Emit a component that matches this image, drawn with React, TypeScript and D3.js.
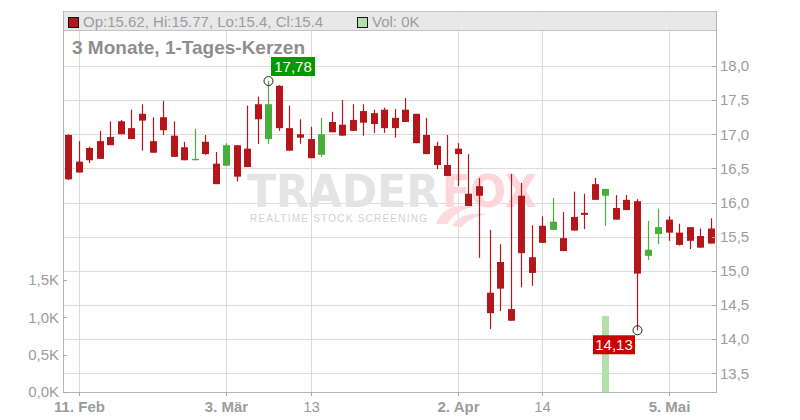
import React from 'react';
import * as d3 from 'd3';

// --- DATA ---
const opens = [
  16.99, 16.60, 16.80, 16.90, 16.96, 17.19, 17.09, 17.30, 16.90, 17.25,
  16.98, 16.81, 16.62, 16.89, 16.57, 16.54, 16.84, 16.79, 17.44, 16.93,
  17.71, 17.09, 17.00, 16.93, 16.70, 17.18, 17.14, 17.21, 17.34, 17.31,
  17.36, 17.24, 17.36, 17.30, 16.99, 16.83, 16.55, 16.79, 16.13, 16.24,
  14.68, 15.13, 14.44, 16.10, 15.20, 15.66, 15.60, 15.48, 15.79, 15.85,
  16.27, 16.10, 15.92, 16.04, 16.02, 15.22, 15.54, 15.75, 15.56, 15.64,
  15.51, 15.62,
];
const highs = [
  17.00, 16.90, 16.82, 17.05, 17.19, 17.21, 17.36, 17.44, 17.25, 17.49,
  17.19, 16.89, 17.08, 16.99, 16.74, 16.87, 16.84, 17.42, 17.55, 17.78,
  17.72, 17.42, 17.22, 17.11, 17.24, 17.33, 17.50, 17.44, 17.44, 17.36,
  17.39, 17.37, 17.53, 17.30, 17.24, 16.89, 16.99, 16.87, 16.71, 16.36,
  15.60, 15.39, 16.42, 16.29, 15.67, 15.80, 16.07, 15.86, 16.16, 16.13,
  16.36, 16.20, 16.11, 16.11, 16.05, 15.73, 15.91, 15.80, 15.69, 15.64,
  15.62, 15.77,
];
const lows = [
  16.33, 16.44, 16.58, 16.64, 16.84, 17.00, 16.93, 16.76, 16.73, 16.99,
  16.67, 16.62, 16.62, 16.70, 16.27, 16.54, 16.31, 16.52, 16.86, 16.86,
  17.05, 16.76, 16.86, 16.65, 16.67, 17.03, 16.98, 17.05, 16.98, 17.02,
  17.02, 16.95, 17.18, 16.87, 16.71, 16.49, 16.39, 16.24, 15.95, 15.19,
  14.15, 14.41, 14.27, 14.76, 14.78, 15.41, 15.60, 15.29, 15.59, 15.61,
  16.04, 15.66, 15.75, 15.89, 14.13, 15.16, 15.39, 15.44, 15.37, 15.32,
  15.34, 15.40,
];
const closes = [
  16.34, 16.44, 16.62, 16.64, 16.84, 17.00, 16.93, 17.20, 16.73, 17.06,
  16.67, 16.62, 16.64, 16.71, 16.27, 16.84, 16.38, 16.52, 17.22, 17.44,
  17.09, 16.76, 16.95, 16.65, 17.00, 17.03, 16.98, 17.05, 17.17, 17.15,
  17.09, 17.09, 17.18, 16.87, 16.71, 16.55, 16.39, 16.71, 15.95, 16.10,
  14.38, 14.74, 14.27, 15.26, 14.97, 15.41, 15.72, 15.29, 15.59, 15.82,
  16.04, 16.20, 15.75, 15.89, 14.96, 15.31, 15.64, 15.56, 15.38, 15.44,
  15.34, 15.40,
];
const volumes = [
  0, 0, 0, 0, 0, 0, 0, 0, 0, 0,
  0, 0, 0, 0, 0, 0, 0, 0, 0, 0,
  0, 0, 0, 0, 0, 0, 0, 0, 0, 0,
  0, 0, 0, 0, 0, 0, 0, 0, 0, 0,
  0, 0, 0, 0, 0, 0, 0, 0, 0, 0,
  0, 1020, 0, 0, 0, 0, 0, 0, 0, 0,
  0, 0,
];
const xTickIndex = [1, 15, 23, 37, 45, 57];
const xTickLabels = ['11. Feb', '3. Mär', '13', '2. Apr', '14', '5. Mai'];
const xTickBold = [true, true, false, true, false, true];
const priceTicks = [13.5, 14, 14.5, 15, 15.5, 16, 16.5, 17, 17.5, 18];
const volumeTicks = [0, 500, 1000, 1500];
const title = '3 Monate, 1-Tages-Kerzen';

const FONT = '"Liberation Sans", Arial, sans-serif';
const RED = '#b5161a';
const GREEN = '#4aae3a';
const AXIS_TXT = '#9c9c9c';
const GRID = '#dcdcdc';

export default function App() {
  const left = 63, right = 716, top = 11, bottom = 392;
  const n = opens.length;

  const x = d3.scaleBand<number>()
    .domain(d3.range(n))
    .range([left, right])
    .paddingInner(0.33)
    .paddingOuter(0.165);
  const cx = (i: number) => Math.round((x(i) || 0) + x.bandwidth() / 2);

  const y = d3.scaleLinear().domain([13.5, 18]).range([373.3, 66]);
  const yVol = d3.scaleLinear().domain([0, 1500]).range([bottom, 280]);

  const fmtPrice = (v: number) => d3.format('.1f')(v).replace('.', ',');
  const fmtVol = (v: number) => (v / 1000).toFixed(1).replace('.', ',') + 'K';

  const hiIdx = d3.maxIndex(highs);
  const loIdx = d3.minIndex(lows);
  const last = n - 1;

  return (
    <div style={{ position: 'fixed', left: 0, top: 0 }}>
      <svg width={800} height={420} style={{ display: 'block', fontFamily: FONT }}>
        <rect x={0} y={0} width={800} height={420} fill="#fff" />

        {/* horizontal grid */}
        {priceTicks.map(t => (
          <line key={'hg' + t} x1={left} x2={right} y1={Math.round(y(t)) + 0.5} y2={Math.round(y(t)) + 0.5}
            stroke={GRID} strokeWidth={1} />
        ))}
        {/* vertical grid */}
        {xTickIndex.map(i => (
          <line key={'vg' + i} x1={cx(i) + 0.5} x2={cx(i) + 0.5} y1={top} y2={bottom}
            stroke={GRID} strokeWidth={1} />
        ))}

        {/* watermark */}
        <g>
          <text x={247} y={207} fontSize={44} fontWeight={900} fill="#e4e4e4"
            fontFamily='"DejaVu Sans", sans-serif' textLength={192} lengthAdjust="spacingAndGlyphs">TRADER</text>
          <text x={442} y={207} fontSize={44} fontWeight={900} fill="#fcd6da"
            fontFamily='"DejaVu Sans", sans-serif' textLength={95} lengthAdjust="spacingAndGlyphs">FOX</text>
          <text x={250} y={222} fontSize={10} fill="#d2d2d2" textLength={177}
            lengthAdjust="spacing">REALTIME STOCK SCREENING</text>
          <path d="M436,224 C440,210 455,203 476,206 C462,209 452,215 448,224 Z" fill="#fcdadd" />
          <path d="M452,226 C458,216 470,212 486,214 C474,217 466,221 462,227 Z" fill="#fcdadd" />
        </g>

        {/* legend band */}
        <rect x={left + 0.5} y={top + 0.5} width={right - left} height={19} fill="#e6e6e6" fillOpacity={0.92}
          stroke="#c4c4c4" strokeWidth={1} />
        <rect x={68.5} y={17.5} width={10} height={10} fill={closes[last] >= opens[last] ? GREEN : RED}
          stroke="#111" strokeWidth={1} />
        <text x={83} y={27} fontSize={15} fill={AXIS_TXT}>
          {`Op:${opens[last]}, Hi:${highs[last]}, Lo:${lows[last]}, Cl:${closes[last]}`}
        </text>
        <rect x={357.5} y={17.5} width={10} height={10} fill="#b2e0ab" stroke="#111" strokeWidth={1} />
        <text x={372} y={27} fontSize={15} fill={AXIS_TXT}>{`Vol: ${Math.round(volumes[last] / 1000)}K`}</text>

        {/* title */}
        <text x={72} y={54} fontSize={19} fontWeight="bold" fill="#8e8e8e">{title}</text>

        {/* volume bars */}
        {volumes.map((v, i) => v > 0 ? (
          <rect key={'v' + i} x={cx(i) - 3} y={yVol(v)} width={7} height={bottom - yVol(v)}
            fill={closes[i] >= opens[i] ? '#b2e0ab' : '#f0b4b4'} />
        ) : null)}

        {/* candles */}
        {opens.map((o, i) => {
          const c = closes[i];
          const up = c >= o;
          const col = up ? GREEN : RED;
          const yTop = y(Math.max(o, c));
          const h = Math.max(1, y(Math.min(o, c)) - yTop);
          return (
            <g key={'c' + i}>
              <line x1={cx(i) + 0.5} x2={cx(i) + 0.5} y1={y(highs[i])} y2={y(lows[i])} stroke={col} strokeWidth={1.2} />
              <rect x={cx(i) - 3} y={yTop} width={7} height={h} fill={col} />
            </g>
          );
        })}

        {/* frame */}
        <line x1={left + 0.5} x2={left + 0.5} y1={top} y2={bottom + 0.5} stroke="#b4b4b4" />
        <line x1={right + 0.5} x2={right + 0.5} y1={top} y2={bottom + 0.5} stroke="#b4b4b4" />
        <line x1={left} x2={right + 1} y1={bottom + 0.5} y2={bottom + 0.5} stroke="#b4b4b4" />

        {/* right price axis */}
        {priceTicks.map(t => (
          <g key={'pt' + t}>
            <line x1={right - 4} x2={right} y1={Math.round(y(t)) + 0.5} y2={Math.round(y(t)) + 0.5} stroke="#a8a8a8" />
            <text x={720} y={y(t)} dy="0.35em" fontSize={15} fill={AXIS_TXT}>{fmtPrice(t)}</text>
          </g>
        ))}

        {/* left volume axis */}
        {volumeTicks.map(t => (
          <g key={'vt' + t}>
            <line x1={left} x2={left + 4} y1={Math.round(yVol(t)) + 0.5} y2={Math.round(yVol(t)) + 0.5} stroke="#a8a8a8" />
            <text x={59} y={yVol(t)} dy="0.35em" fontSize={15} fill={AXIS_TXT} textAnchor="end">{fmtVol(t)}</text>
          </g>
        ))}

        {/* bottom axis */}
        {xTickIndex.map((i, k) => (
          <g key={'xt' + i}>
            <line x1={cx(i) + 0.5} x2={cx(i) + 0.5} y1={bottom} y2={bottom + 4} stroke="#a8a8a8" />
            <text x={cx(i) + 0.5} y={412} fontSize={15} fill={AXIS_TXT} textAnchor="middle"
              fontWeight={xTickBold[k] ? 'bold' : 'normal'}>{xTickLabels[k]}</text>
          </g>
        ))}

        {/* high / low markers */}
        <circle cx={cx(hiIdx) + 0.5} cy={y(highs[hiIdx])} r={4.5} fill="none" stroke="#222" strokeWidth={1} />
        <rect x={cx(hiIdx) + 3} y={y(highs[hiIdx]) - 24} width={44} height={19} fill="#009900" />
        <text x={cx(hiIdx) + 25} y={y(highs[hiIdx]) - 14.5} dy="0.36em" fontSize={15} fill="#fff"
          textAnchor="middle">{highs[hiIdx].toFixed(2).replace('.', ',')}</text>

        <circle cx={cx(loIdx) + 0.5} cy={y(lows[loIdx])} r={4.5} fill="none" stroke="#222" strokeWidth={1} />
        <rect x={cx(loIdx) - 44} y={y(lows[loIdx]) + 5} width={42} height={19} fill="#cc0000" />
        <text x={cx(loIdx) - 23} y={y(lows[loIdx]) + 14.5} dy="0.36em" fontSize={15} fill="#fff"
          textAnchor="middle">{lows[loIdx].toFixed(2).replace('.', ',')}</text>
      </svg>
    </div>
  );
}
